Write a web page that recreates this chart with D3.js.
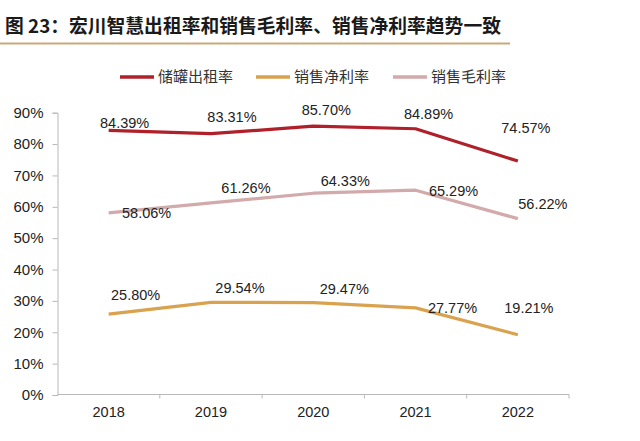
<!DOCTYPE html>
<html><head><meta charset="utf-8">
<script src="https://cdn.jsdelivr.net/npm/d3@7"></script>
<style>body{margin:0;background:#fff}svg{display:block}</style>
</head><body><svg id="c" width="640" height="441"></svg>
<script>
const title = "图 23：宏川智慧出租率和销售毛利率、销售净利率趋势一致";
const categories = ["2018", "2019", "2020", "2021", "2022"];
const seriesNames = ["储罐出租率", "销售净利率", "销售毛利率"];
const rentalRate = [84.39, 83.31, 85.70, 84.89, 74.57];
const netMargin = [25.80, 29.54, 29.47, 27.77, 19.21];
const grossMargin = [58.06, 61.26, 64.33, 65.29, 56.22];
const yTicks = [0, 10, 20, 30, 40, 50, 60, 70, 80, 90];
const colors = ["#B0202A", "#D9A24E", "#D3AAAB"];
// label offsets (px) relative to each point
const rentalOff = [[16,-7],[21,-17],[13,-16],[13,-15],[8,-33]];
const netOff = [[27,-19],[29,-14],[31,-14],[37,0],[11,-27]];
const grossOff = [[38,0],[35,-15],[32,-12],[38,1],[25,-15]];

const series = [
  {name: seriesNames[0], values: rentalRate, color: colors[0], off: rentalOff},
  {name: seriesNames[1], values: netMargin, color: colors[1], off: netOff},
  {name: seriesNames[2], values: grossMargin, color: colors[2], off: grossOff}
];

const svg = d3.select("#c");
const font = "'Liberation Sans', Arial, sans-serif";
const cjk = "'Noto Sans CJK SC', sans-serif";

// title
svg.append("text").attr("x", 5).attr("y", 33).attr("font-family", cjk)
  .attr("font-weight", "bold").attr("font-size", 18.8).attr("fill", "#1a1a1a").text(title);
svg.append("line").attr("x1", 0).attr("x2", 510).attr("y1", 43.5).attr("y2", 43.5)
  .attr("stroke", "#C9A97A").attr("stroke-width", 2);

const x = d3.scaleBand().domain(categories).range([57.5, 569]).padding(0);
const y = d3.scaleLinear().domain([0, 90]).range([395, 112.7]);

// y axis
const yAxis = d3.axisLeft(y).tickValues(yTicks).tickFormat(d => d + "%").tickSize(5).tickPadding(9);
const gy = svg.append("g").attr("transform", "translate(57.5,0)").call(yAxis);
gy.select(".domain").attr("stroke", "#b8b8b8");
gy.selectAll(".tick line").attr("stroke", "#b8b8b8");
gy.selectAll("text").attr("font-family", font).attr("font-size", 15).attr("fill", "#222");

// x axis
const xAxis = d3.axisBottom(x).tickSize(0).tickPadding(12);
const gx = svg.append("g").attr("transform", "translate(0,394.5)").call(xAxis);
gx.select(".domain").attr("stroke", "#b8b8b8").attr("d", `M57.5,0H569`);
gx.selectAll("text").attr("font-family", font).attr("font-size", 14.5).attr("fill", "#222");
gx.selectAll(".bnd").data(categories).enter().append("line")
  .attr("x1", d => x(d) + x.bandwidth()).attr("x2", d => x(d) + x.bandwidth())
  .attr("y1", 0).attr("y2", 4).attr("stroke", "#b8b8b8");

const px = d => x(d) + x.bandwidth() / 2;
const line = d3.line().x((d, i) => px(categories[i])).y(d => y(d));

series.forEach(s => {
  svg.append("path").attr("d", line(s.values)).attr("fill", "none")
    .attr("stroke", s.color).attr("stroke-width", 3.2).attr("stroke-linejoin", "round");
});
series.forEach(s => {
  svg.append("g").selectAll("text").data(s.values).enter().append("text")
    .attr("x", (d, i) => px(categories[i]) + s.off[i][0])
    .attr("y", (d, i) => y(d) + s.off[i][1])
    .attr("dy", "0.35em").attr("text-anchor", "middle")
    .attr("font-family", font).attr("font-size", 14.5).attr("fill", "#222")
    .text(d => d.toFixed(2) + "%");
});

// legend
const legX = [120, 256, 393];
series.forEach((s, i) => {
  svg.append("line").attr("x1", legX[i]).attr("x2", legX[i] + 34).attr("y1", 77).attr("y2", 77)
    .attr("stroke", s.color).attr("stroke-width", 3.5);
  svg.append("text").attr("x", legX[i] + 38).attr("y", 77).attr("dy", "0.35em")
    .attr("font-family", cjk).attr("font-size", 15).attr("fill", "#333").text(s.name);
});
</script></body></html>
